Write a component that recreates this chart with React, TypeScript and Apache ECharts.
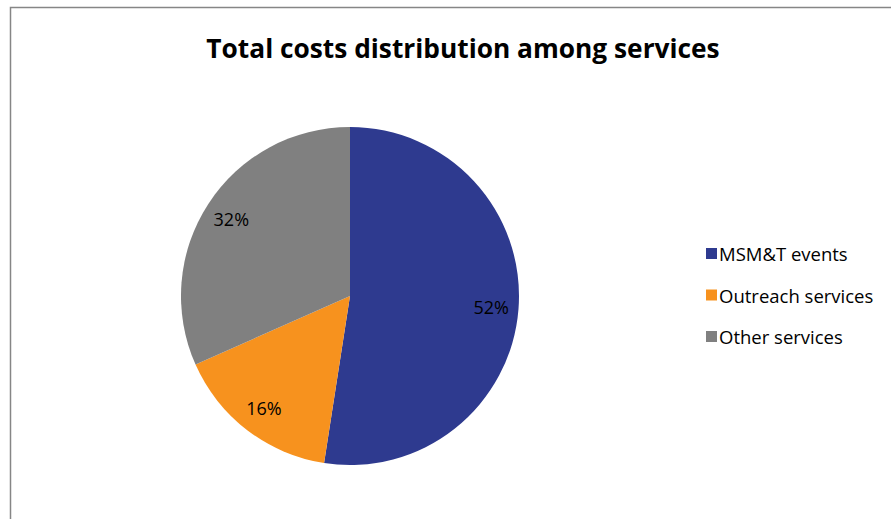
import React, { useEffect, useRef } from "react";
import * as echarts from "echarts";

const categories = ["MSM&T events", "Outreach services", "Other services"];
const values = [52.45, 15.9, 31.65];
const colors = ["#2E3A8F", "#F7921E", "#808080"];
const titleText = "Total costs distribution among services";

export default function App() {
  const ref = useRef<HTMLDivElement>(null);
  useEffect(() => {
    document.body.style.margin = "0";
    const chart = echarts.init(ref.current!, null, { renderer: "svg" });
    const data = categories.map((name, i) => ({
      name,
      value: values[i],
      itemStyle: { color: colors[i] },
    }));
    const R = 169;
    chart.setOption({
      animation: false,
      backgroundColor: "#ffffff",
      title: {
        text: titleText,
        left: 458,
        textAlign: "center",
        top: 30,
        textStyle: {
          fontFamily: "Open Sans",
          fontWeight: "bold",
          fontSize: 26.3,
          color: "#000000",
        },
      },
      legend: {
        orient: "vertical",
        left: 701,
        top: 239,
        itemWidth: 11,
        itemHeight: 11,
        itemGap: 22.5,
        icon: "rect",
        data: categories,
        textStyle: { fontFamily: "Open Sans", fontSize: 18.5, color: "#000000", padding: [0, 0, 0, -3] },
      },
      graphic: [
        {
          type: "rect",
          shape: { x: 10.5, y: 7.5, width: 900, height: 540 },
          style: { fill: "none", stroke: "#868686", lineWidth: 1.5 },
          silent: true,
          z: -1,
        },
      ],
      series: [
        {
          type: "pie",
          center: [350, 296],
          radius: R,
          startAngle: 90,
          clockwise: true,
          label: { show: false },
          labelLine: { show: false },
          emphasis: { disabled: true },
          data,
        },
        {
          type: "pie",
          center: [350, 296],
          radius: [R * 0.64, R],
          startAngle: 90,
          clockwise: true,
          silent: true,
          itemStyle: { color: "transparent" },
          label: {
            show: true,
            position: "inside",
            fontFamily: "Open Sans",
            fontSize: 18,
            color: "#000000",
            formatter: (p: any) => Math.round(p.percent) + "%",
          },
          labelLine: { show: false },
          emphasis: { disabled: true },
          data: categories.map((name, i) => ({ name, value: values[i] })),
        },
      ],
    });
    return () => chart.dispose();
  }, []);
  return <div ref={ref} style={{ width: 891, height: 519 }} />;
}
